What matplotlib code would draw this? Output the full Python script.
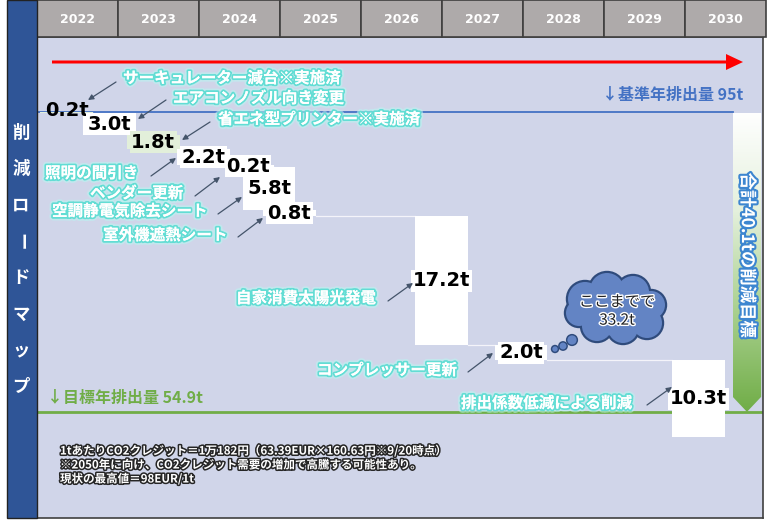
import numpy as np
import matplotlib
matplotlib.use('Agg')
import matplotlib.pyplot as plt
import matplotlib.patheffects as pe
from matplotlib.patches import Rectangle, Polygon, Circle, FancyArrow
from matplotlib.colors import LinearSegmentedColormap

plt.rcParams['font.family'] = ['Noto Sans CJK JP', 'DejaVu Sans']

# ---- data ----
years = [2022, 2023, 2024, 2025, 2026, 2027, 2028, 2029, 2030]
baseline = 95.0      # 基準年排出量
target = 54.9        # 目標年排出量
measures = ['サーキュレーター減台※実施済', 'エアコンノズル向き変更', '省エネ型プリンター※実施済',
            '照明の間引き', 'ベンダー更新', '空調静電気除去シート', '室外機遮熱シート',
            '自家消費太陽光発電', 'コンプレッサー更新', '排出係数低減による削減']
reductions = [0.2, 3.0, 1.8, 2.2, 0.2, 5.8, 0.8, 17.2, 2.0, 10.3]
start_year = [2022.04, 2022.57, 2023.11, 2023.73, 2024.28, 2024.54, 2024.79, 2026.67, 2027.65, 2029.84]
done = [True, False, True, False, False, False, False, False, False, False]
subtotal_label = 'ここまでで\n33.2t'
total_label = '合計40.1tの削減目標'
note_lines = ['1tあたりCO2クレジット＝1万182円（63.39EUR×160.63円※9/20時点）',
              '※2050年に向け、CO2クレジット需要の増加で高騰する可能性あり。',
              '現状の最高値＝98EUR/1t']
side_title = '削減ロードマップ'

# ---- layout (pixel positions of callout texts: text x, text y, tail x, tail y, tip x, tip y) ----
callouts = [(123, 78, 116, 82, 88, 100), (173, 98, 166, 100, 138, 119),
            (218, 119, 210, 122, 182, 140), (45, 173, 151, 176, 176, 158),
            (90, 193, 195, 196, 220, 177), (52, 211, 218, 214, 242, 197),
            (103, 235, 238, 237, 263, 218), (236, 298, 388, 301, 413, 283),
            (317, 370, 468, 372, 493, 353), (461, 403, 647, 405, 672, 387)]
bar_w = 0.65
lavender = '#D0D5E9'
white_bar = '#FFFFFF'
green_bar = '#E2EFDA'

W, H = 768, 521
fig = plt.figure(figsize=(W / 100, H / 100), dpi=100)
fig.patch.set_facecolor('white')

# main plot area
ax = fig.add_axes([37 / W, 3 / H, 726 / W, 481 / H])
ax.set_facecolor(lavender)
for s in ax.spines.values():
    s.set_color('#3F3F3F')
    s.set_linewidth(1.2)
ax.set_xticks([])
ax.set_yticks([])

red = np.array(reductions)
tops = baseline - np.concatenate([[0], np.cumsum(red)[:-1]])
bottoms = tops - red
colors = [green_bar if d else white_bar for d in done]

ax.bar(start_year, -red, bottom=tops, width=bar_w, align='edge', color=colors,
       edgecolor='none', zorder=2)

# connectors between bars
for i in range(len(red) - 1):
    ax.plot([start_year[i] + bar_w, start_year[i + 1]], [bottoms[i], bottoms[i]],
            color='#F4F4FA', lw=0.9, zorder=1.5)

# value labels
for i, (r, c) in enumerate(zip(red, colors)):
    kw = {}
    if i > 0:
        kw['bbox'] = dict(boxstyle='square,pad=0.08', fc=c, ec='none')
    ax.text(start_year[i] + bar_w / 2, (tops[i] + bottoms[i]) / 2 + (0.25 if i == 0 else 0),
            f'{r:.1f}t', ha='center', va='center', fontsize=14, fontweight='bold',
            family='DejaVu Sans', color='black', zorder=4, **kw)

# reference lines
ax.axhline(baseline, xmin=0, xmax=(2030.59 - 2022) / (726 / 81),
           color='#4472C4', lw=1.3, zorder=1)
ax.axhline(target, color='#70AD47', lw=2, zorder=1)
ax.text(2030.72, baseline + 2.2, '↓基準年排出量 95t', ha='right', va='center',
        fontsize=11.5, fontweight='bold', color='#4472C4')
ax.text(2022.12, target + 1.85, '↓目標年排出量 54.9t', ha='left', va='center',
        fontsize=11.5, fontweight='bold', color='#70AD47')

# gradient total arrow
x0, x1 = 2030.59, 2030.94
xc = (x0 + x1) / 2
neck = target + 2.0
arrow_poly = Polygon([(x0, baseline - 0.2), (x1, baseline - 0.2), (x1, neck), (xc, target), (x0, neck)],
                     closed=True, fc='none', ec='none')
ax.add_patch(arrow_poly)
cmap = LinearSegmentedColormap.from_list('g', ['#FFFFFF', '#E4F0DC', '#A9D08E', '#70AD47'])
grad = np.linspace(0, 1, 256)[:, None]
im = ax.imshow(grad, extent=[x0, x1, target, baseline], origin='upper', cmap=cmap,
               aspect='auto', zorder=3)
im.set_clip_path(arrow_poly)
ax.text(xc, 75.8, total_label, rotation=-90, ha='center', va='center', fontsize=12.5,
        fontweight='bold', color='white', zorder=5,
        path_effects=[pe.withStroke(linewidth=3, foreground='#3D86D0')])

ax.set_xlim(2022, 2022 + 726 / 81)
ax.set_ylim(95 - (518 - 111.5) / 7.49, 95 + (111.5 - 37) / 7.49)

# header with years
hx = fig.add_axes([37 / W, (H - 37) / H, (W - 37) / W, 37 / H])
hx.bar(years, 1, width=1, align='edge', color='#AEAAAA', edgecolor='#3F3F3F', lw=1.2,
       clip_on=False)
for y in years:
    hx.text(y + 0.5, 0.47, str(y), ha='center', va='center', fontsize=9,
            fontweight='bold', color='white', family='DejaVu Sans')
hx.set_xlim(2022, 2022 + (W - 37) / 81)
hx.set_ylim(0, 1)
hx.axis('off')

# overlay in pixel coordinates for decorations
ov = fig.add_axes([0, 0, 1, 1])
ov.set_xlim(0, W)
ov.set_ylim(H, 0)
ov.axis('off')

ov.add_patch(Rectangle((7, 0), 30, 518, fc='#2F5597', ec='#222222', lw=1))
for k, ch in enumerate(side_title):
    ov.text(21, 133 + k * 36.3, ch, ha='center', va='center', fontsize=12.5,
            fontweight='bold', color='white', rotation=-90 if ch == 'ー' else 0)

ov.add_patch(FancyArrow(52, 62, 691, 0, width=3, head_width=16, head_length=17,
                        length_includes_head=True, color='#FF0000', lw=0))

glow = [pe.withStroke(linewidth=5, foreground='#B8F7F2', alpha=0.55),
        pe.withStroke(linewidth=2.6, foreground='#62DDD4'), pe.Normal()]
for name, (tx, ty, ax0, ay0, ax1, ay1) in zip(measures, callouts):
    ov.text(tx, ty, name, ha='left', va='center', fontsize=11.2, fontweight='bold',
            color='white', path_effects=glow)
    ov.annotate('', xy=(ax1, ay1), xytext=(ax0, ay0),
                arrowprops=dict(arrowstyle='-|>', color='#44546A', lw=0.9,
                                mutation_scale=8, shrinkA=0, shrinkB=0))

# thought cloud
cx, cy = 615, 309
bumps = [(-30, -10, 17), (-8, -19, 17), (18, -17, 16), (36, -4, 14), (32, 14, 15),
         (8, 19, 15), (-18, 17, 15), (-36, 4, 13), (0, 0, 27)]
bubbles = [(555, 349, 2.7), (563, 346, 3.4), (572, 340, 4.6)]
for dx, dy, r in bumps:
    ov.add_patch(Circle((cx + dx, cy + dy), r + 2.2, fc='#2F4B7C', ec='none', zorder=5))
for bx, by, r in bubbles:
    ov.add_patch(Circle((bx, by), r + 1.5, fc='#2F4B7C', ec='none', zorder=5))
for dx, dy, r in bumps:
    ov.add_patch(Circle((cx + dx, cy + dy), r, fc='#6384C4', ec='none', zorder=6))
for bx, by, r in bubbles:
    ov.add_patch(Circle((bx, by), r, fc='#6384C4', ec='none', zorder=6))
ov.text(617, 311, subtotal_label, ha='center', va='center', fontsize=11, color='#222222',
        linespacing=1.1, zorder=7, path_effects=[pe.withStroke(linewidth=2, foreground='white')])

for k, line in enumerate(note_lines):
    ov.text(60, 451 + k * 14, line, ha='left', va='center', fontsize=8.3, fontweight='bold',
            color='white', path_effects=[pe.withStroke(linewidth=2.2, foreground='#262626')])

fig.savefig('out.png', dpi=100)
